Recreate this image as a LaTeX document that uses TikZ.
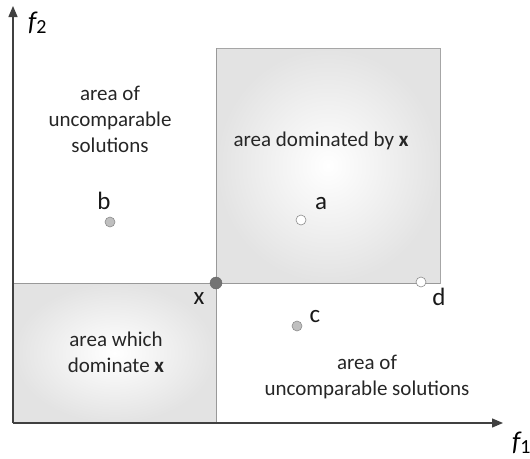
\documentclass[tikz,border=0pt]{standalone}
\usepackage{fontspec}
\setmainfont{Carlito}
\usetikzlibrary{arrows.meta}
\begin{document}
\begin{tikzpicture}[x=1pt,y=-1pt,
  txt/.style={font=\fontsize{21}{26}\selectfont, text=black!85, align=center, inner sep=0pt},
  lbl/.style={font=\fontsize{25}{28}\selectfont, text=black!90, inner sep=0pt},
  axis/.style={draw=black!75, line width=1.4pt, -{Triangle[length=11pt,width=9pt]}},
  region/.style={inner color=white, outer color=black!11, draw=black!35, line width=0.8pt},
  ptg/.style={circle, inner sep=0pt, minimum size=10pt, draw=black!45, fill=black!25, line width=0.6pt},
  ptw/.style={circle, inner sep=0pt, minimum size=10pt, draw=black!45, fill=white, line width=0.6pt}]
\useasboundingbox (0,0) rectangle (530,458);
% shaded regions
\shade[region] (216,48) rectangle (440,283);
\shade[region] (13,283) rectangle (216,423);
\draw[black!40, line width=0.8pt] (13,283) -- (440,283);
\draw[black!40, line width=0.8pt] (216,48) -- (216,423);
% axes
\coordinate (O) at (13,423);
\coordinate (Y) at (13,6);
\coordinate (X) at (503,423);
\draw[axis] (O) -- (Y);
\draw[axis] (O) -- (X);
\node[font=\fontsize{27}{30}\selectfont\itshape, anchor=west, inner sep=0pt] (f2) at (28,23) {f\raisebox{-0.25ex}{\upshape\fontsize{20}{22}\selectfont 2}};
\node[font=\fontsize{27}{30}\selectfont\itshape, anchor=west, inner sep=0pt] (f1) at (512,443) {f\raisebox{-0.25ex}{\upshape\fontsize{20}{22}\selectfont 1}};
% texts
\node[txt] (t1) at (110,119) {area of\\uncomparable\\solutions};
\node[txt] (t2) at (321,141) {area dominated by \textbf{x}};
\node[txt] (t3) at (116,352) {area which\\dominate \textbf{x}};
\node[txt] (t4) at (367,377) {area of\\uncomparable solutions};
% points
\node[ptg] (b) at (110,222) {};
\node[ptw] (a) at (301,220) {};
\node[ptg] (c) at (297,326) {};
\node[ptw] (d) at (421,282) {};
\node[circle, inner sep=0pt, minimum size=12pt, draw=black!60, fill=black!55] (x) at (216,283) {};
\node[lbl] (lb) at (104,201) {b};
\node[lbl] (la) at (321,204) {a};
\node[lbl] (lc) at (315,317) {c};
\node[lbl] (ld) at (439,297) {d};
\node[lbl] (lx) at (199,299) {x};
\end{tikzpicture}
\end{document}
